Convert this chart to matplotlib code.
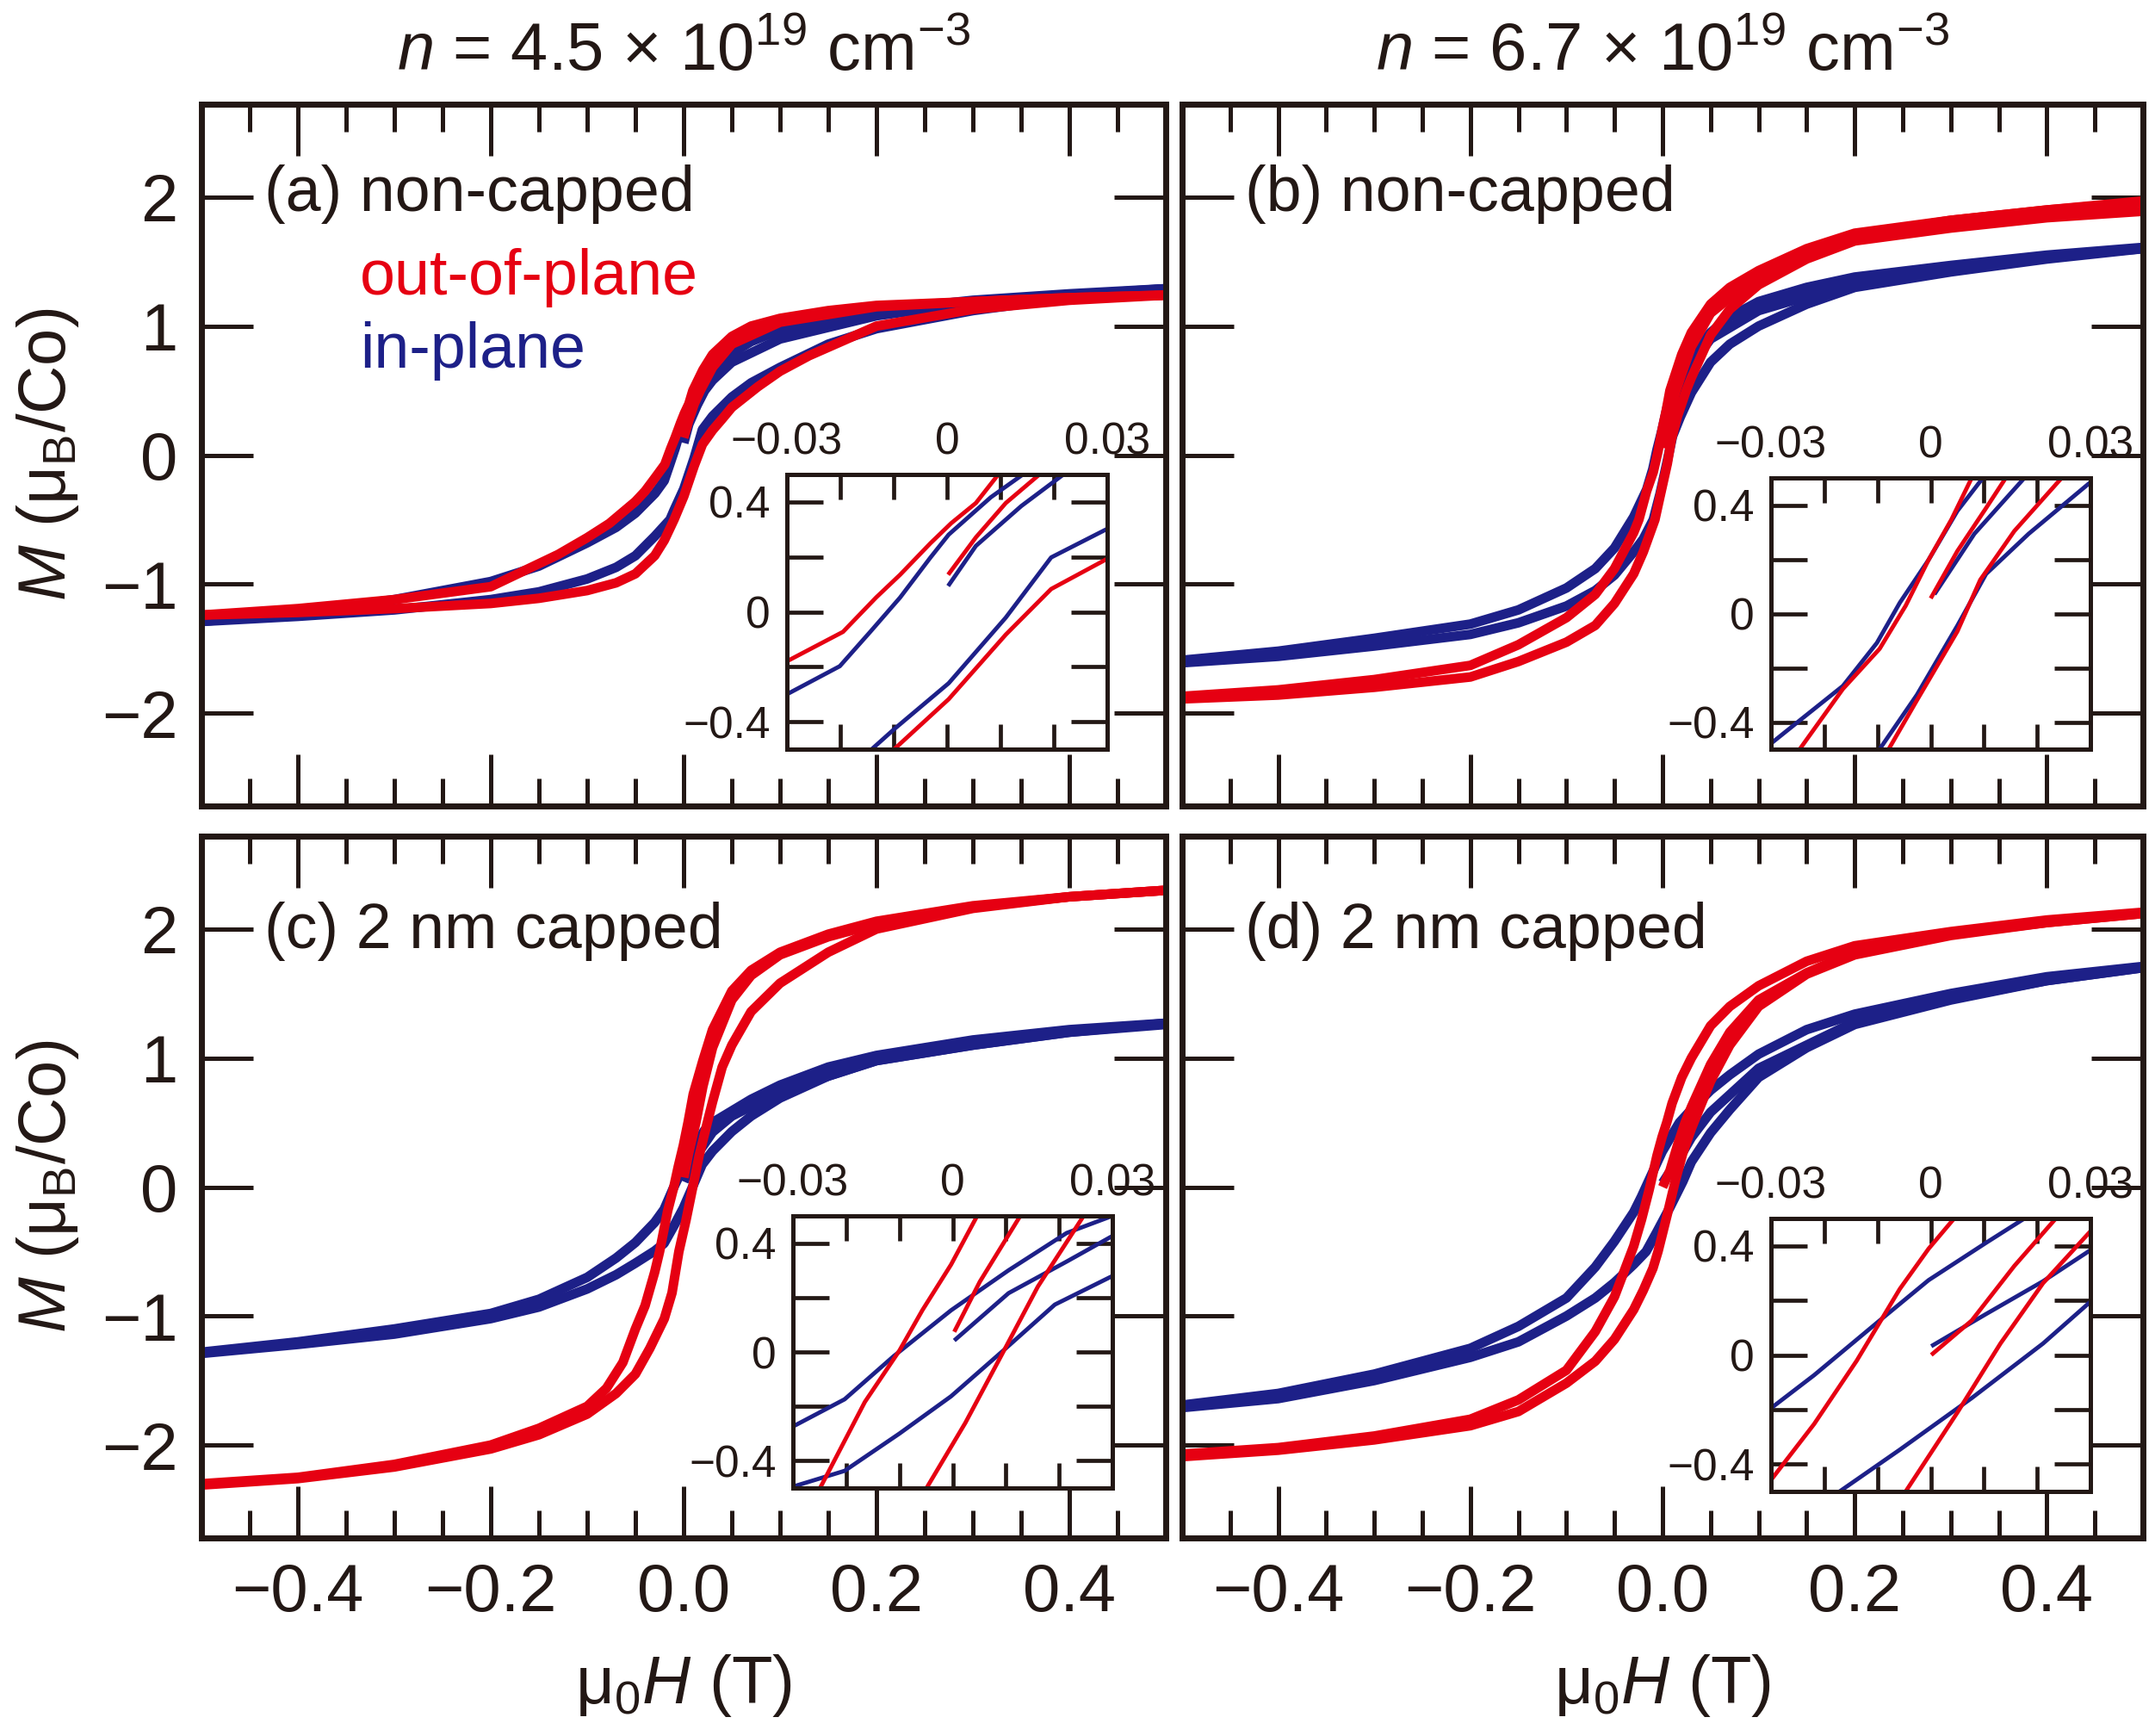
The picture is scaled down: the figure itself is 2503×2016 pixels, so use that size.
import numpy as np
import matplotlib
matplotlib.use('Agg')
import matplotlib.pyplot as plt
from matplotlib.ticker import FixedLocator, MultipleLocator, FixedFormatter

plt.rcParams['font.family'] = ['Liberation Sans', 'DejaVu Sans']
plt.rcParams['mathtext.fontset'] = 'custom'
plt.rcParams['mathtext.rm'] = 'Liberation Sans'
plt.rcParams['mathtext.it'] = 'Liberation Sans:italic'
plt.rcParams['mathtext.bf'] = 'Liberation Sans:bold'

# ---------------- data: (mu0H [T], M [muB/Co]) ----------------
# UP = descending-field branch, LOW = ascending-field branch, VIR = initial curve
A_RED_UP = [(0.5,1.24),(0.4,1.22),(0.3,1.19),(0.2,1.16),(0.15,1.12),(0.1,1.06),(0.07,1.0),(0.05,0.92),(0.03,0.78),(0.02,0.66),(0.0096,0.5),(0.0054,0.396),(0.0008,0.323),(-0.0031,0.25),(-0.0088,0.135),(-0.0133,0.052),(-0.0195,-0.073),(-0.0297,-0.177),(-0.04,-0.28),(-0.05,-0.36),(-0.077,-0.53),(-0.1,-0.64),(-0.13,-0.77),(-0.2,-1.02),(-0.3,-1.12),(-0.4,-1.19),(-0.5,-1.24)]
A_RED_LOW = [(-0.5,-1.24),(-0.4,-1.22),(-0.3,-1.19),(-0.2,-1.15),(-0.15,-1.11),(-0.1,-1.05),(-0.07,-0.99),(-0.05,-0.92),(-0.03,-0.78),(-0.02,-0.66),(-0.0099,-0.5),(0.0003,-0.318),(0.011,-0.083),(0.0195,0.083),(0.03,0.193),(0.04,0.28),(0.05,0.37),(0.077,0.53),(0.1,0.65),(0.13,0.77),(0.2,1.0),(0.3,1.13),(0.4,1.2),(0.5,1.24)]
A_RED_VIR = [(0.0002,0.135),(0.0054,0.271),(0.011,0.396),(0.0173,0.5),(0.03,0.68),(0.05,0.86),(0.1,1.03),(0.2,1.15),(0.3,1.19),(0.4,1.22),(0.5,1.24)]
A_BLUE_UP = [(0.5,1.29),(0.4,1.25),(0.3,1.2),(0.2,1.12),(0.15,1.06),(0.1,0.97),(0.07,0.88),(0.05,0.79),(0.03,0.64),(0.0142,0.5),(0.0082,0.417),(0.0003,0.281),(-0.0031,0.198),(-0.0088,0.052),(-0.0144,-0.073),(-0.0201,-0.198),(-0.0297,-0.297),(-0.05,-0.45),(-0.07,-0.56),(-0.1,-0.68),(-0.15,-0.86),(-0.2,-0.98),(-0.3,-1.12),(-0.4,-1.22),(-0.5,-1.29)]
A_BLUE_LOW = [(-0.5,-1.29),(-0.4,-1.25),(-0.3,-1.2),(-0.2,-1.12),(-0.15,-1.06),(-0.1,-0.96),(-0.07,-0.87),(-0.05,-0.78),(-0.03,-0.63),(-0.0141,-0.5),(-0.0099,-0.427),(0.0003,-0.26),(0.011,-0.021),(0.0195,0.198),(0.03,0.302),(0.05,0.45),(0.07,0.56),(0.1,0.68),(0.15,0.86),(0.2,0.98),(0.3,1.12),(0.4,1.22),(0.5,1.29)]
A_BLUE_VIR = [(0.0002,0.094),(0.0054,0.24),(0.0139,0.385),(0.0218,0.5),(0.03,0.58),(0.05,0.72),(0.1,0.9),(0.2,1.08),(0.3,1.18),(0.4,1.24),(0.5,1.29)]

B_RED_UP = [(0.5,1.97),(0.4,1.9),(0.3,1.82),(0.2,1.72),(0.15,1.6),(0.1,1.43),(0.07,1.3),(0.05,1.17),(0.03,0.95),(0.02,0.78),(0.0077,0.5),(0.0039,0.347),(-0.0004,0.198),(-0.0047,0.029),(-0.0096,-0.13),(-0.0165,-0.278),(-0.0246,-0.5),(-0.03,-0.6),(-0.05,-0.88),(-0.07,-1.08),(-0.1,-1.26),(-0.15,-1.47),(-0.2,-1.63),(-0.3,-1.74),(-0.4,-1.82),(-0.5,-1.87)]
B_RED_LOW = [(-0.5,-1.89),(-0.4,-1.86),(-0.3,-1.8),(-0.2,-1.72),(-0.15,-1.6),(-0.1,-1.45),(-0.07,-1.32),(-0.05,-1.15),(-0.03,-0.92),(-0.02,-0.75),(-0.0079,-0.5),(-0.0026,-0.32),(0.005,-0.066),(0.0093,0.124),(0.0157,0.304),(0.0246,0.5),(0.03,0.6),(0.05,0.93),(0.07,1.13),(0.1,1.32),(0.15,1.52),(0.2,1.66),(0.3,1.76),(0.4,1.84),(0.5,1.89)]
B_RED_VIR = [(0.0,0.056),(0.005,0.23),(0.0104,0.389),(0.0141,0.5),(0.02,0.63),(0.03,0.84),(0.05,1.1),(0.1,1.4),(0.2,1.7),(0.3,1.82),(0.4,1.9),(0.5,1.96)]
B_BLUE_UP = [(0.5,1.61),(0.4,1.55),(0.3,1.47),(0.2,1.38),(0.15,1.3),(0.1,1.19),(0.07,1.07),(0.05,0.95),(0.03,0.76),(0.02,0.65),(0.0098,0.5),(0.005,0.378),(-0.0004,0.198),(-0.0058,0.04),(-0.0101,-0.108),(-0.0165,-0.267),(-0.0246,-0.394),(-0.03,-0.479),(-0.05,-0.72),(-0.07,-0.88),(-0.1,-1.03),(-0.15,-1.2),(-0.2,-1.31),(-0.3,-1.42),(-0.4,-1.52),(-0.5,-1.59)]
B_BLUE_LOW = [(-0.5,-1.61),(-0.4,-1.56),(-0.3,-1.48),(-0.2,-1.39),(-0.15,-1.3),(-0.1,-1.17),(-0.07,-1.05),(-0.05,-0.93),(-0.03,-0.75),(-0.02,-0.65),(-0.0096,-0.5),(-0.0026,-0.3),(0.005,-0.045),(0.0104,0.146),(0.0184,0.294),(0.03,0.484),(0.05,0.72),(0.07,0.86),(0.1,1.0),(0.15,1.17),(0.2,1.3),(0.3,1.42),(0.4,1.52),(0.5,1.6)]
B_BLUE_VIR = [(0.0007,0.071),(0.0082,0.294),(0.0176,0.5),(0.03,0.7),(0.05,0.9),(0.1,1.12),(0.2,1.34),(0.3,1.45),(0.4,1.54),(0.5,1.6)]

C_RED_UP = [(0.5,2.3),(0.4,2.25),(0.3,2.18),(0.2,2.06),(0.15,1.96),(0.1,1.82),(0.07,1.68),(0.05,1.52),(0.03,1.22),(0.02,0.98),(0.01,0.72),(0.0046,0.5),(-0.0003,0.321),(-0.0057,0.153),(-0.01,0.005),(-0.0165,-0.184),(-0.0249,-0.5),(-0.03,-0.66),(-0.04,-0.92),(-0.05,-1.1),(-0.063,-1.36),(-0.08,-1.56),(-0.1,-1.7),(-0.15,-1.87),(-0.2,-2.0),(-0.3,-2.15),(-0.4,-2.25),(-0.5,-2.3)]
C_RED_LOW = [(-0.5,-2.31),(-0.4,-2.26),(-0.3,-2.17),(-0.2,-2.03),(-0.15,-1.92),(-0.1,-1.76),(-0.07,-1.6),(-0.05,-1.45),(-0.035,-1.25),(-0.02,-1.02),(-0.012,-0.82),(-0.0049,-0.5),(0.0024,-0.26),(0.0095,0.0),(0.016,0.24),(0.0246,0.5),(0.03,0.66),(0.04,0.93),(0.05,1.1),(0.07,1.36),(0.1,1.58),(0.15,1.82),(0.2,2.0),(0.3,2.16),(0.4,2.25),(0.5,2.3)]
C_RED_VIR = [(0.0003,0.074),(0.0051,0.258),(0.0127,0.5),(0.02,0.78),(0.03,1.08),(0.05,1.45),(0.07,1.64),(0.1,1.8),(0.15,1.94),(0.2,2.04),(0.3,2.17),(0.4,2.25),(0.5,2.3)]
C_BLUE_UP = [(0.5,1.27),(0.4,1.22),(0.3,1.14),(0.2,1.02),(0.15,0.93),(0.1,0.79),(0.07,0.68),(0.05,0.59),(0.03,0.5),(0.0214,0.437),(0.0105,0.3),(-0.0003,0.153),(-0.0111,-0.016),(-0.0203,-0.174),(-0.03,-0.274),(-0.05,-0.43),(-0.07,-0.55),(-0.1,-0.7),(-0.15,-0.87),(-0.2,-0.98),(-0.3,-1.1),(-0.4,-1.2),(-0.5,-1.28)]
C_BLUE_LOW = [(-0.5,-1.29),(-0.4,-1.22),(-0.3,-1.14),(-0.2,-1.02),(-0.15,-0.93),(-0.1,-0.79),(-0.07,-0.68),(-0.05,-0.59),(-0.03,-0.495),(-0.0203,-0.437),(-0.01,-0.3),(-0.0003,-0.163),(0.0095,0.005),(0.0192,0.174),(0.03,0.279),(0.05,0.43),(0.07,0.55),(0.1,0.69),(0.15,0.86),(0.2,0.98),(0.3,1.1),(0.4,1.2),(0.5,1.27)]
C_BLUE_VIR = [(0.0003,0.042),(0.0105,0.216),(0.0214,0.332),(0.03,0.426),(0.05,0.55),(0.1,0.74),(0.2,0.98),(0.3,1.1),(0.4,1.2),(0.5,1.26)]

D_RED_UP = [(0.5,2.13),(0.4,2.07),(0.3,1.98),(0.2,1.87),(0.15,1.75),(0.1,1.56),(0.07,1.4),(0.05,1.25),(0.03,1.0),(0.02,0.85),(0.01,0.65),(0.0044,0.5),(-0.0004,0.389),(-0.0058,0.242),(-0.0139,-0.021),(-0.0219,-0.253),(-0.03,-0.458),(-0.05,-0.85),(-0.07,-1.12),(-0.1,-1.42),(-0.15,-1.65),(-0.2,-1.8),(-0.3,-1.93),(-0.4,-2.02),(-0.5,-2.07)]
D_RED_LOW = [(-0.5,-2.09),(-0.4,-2.04),(-0.3,-1.96),(-0.2,-1.85),(-0.15,-1.74),(-0.1,-1.52),(-0.07,-1.35),(-0.05,-1.18),(-0.03,-0.95),(-0.02,-0.8),(-0.01,-0.63),(-0.0047,-0.5),(0.005,-0.211),(0.0131,0.042),(0.0211,0.263),(0.03,0.453),(0.05,0.82),(0.07,1.1),(0.1,1.4),(0.15,1.65),(0.2,1.8),(0.3,1.95),(0.4,2.05),(0.5,2.12)]
D_RED_VIR = [(0.0001,0.0),(0.0077,0.126),(0.0157,0.326),(0.0235,0.5),(0.03,0.62),(0.05,0.95),(0.07,1.2),(0.1,1.45),(0.15,1.66),(0.2,1.82),(0.3,1.96),(0.4,2.05),(0.5,2.12)]
D_BLUE_UP = [(0.5,1.71),(0.4,1.63),(0.3,1.5),(0.2,1.34),(0.15,1.22),(0.1,1.03),(0.07,0.87),(0.05,0.75),(0.03,0.6),(0.0176,0.5),(0.0104,0.411),(-0.0004,0.274),(-0.0096,0.126),(-0.0219,-0.074),(-0.03,-0.195),(-0.05,-0.42),(-0.07,-0.62),(-0.1,-0.86),(-0.15,-1.08),(-0.2,-1.25),(-0.3,-1.45),(-0.4,-1.6),(-0.5,-1.69)]
D_BLUE_LOW = [(-0.5,-1.71),(-0.4,-1.64),(-0.3,-1.5),(-0.2,-1.32),(-0.15,-1.2),(-0.1,-1.0),(-0.07,-0.86),(-0.05,-0.74),(-0.03,-0.6),(-0.0171,-0.5),(-0.0058,-0.347),(0.0077,-0.158),(0.0211,0.042),(0.03,0.195),(0.05,0.42),(0.07,0.6),(0.1,0.85),(0.15,1.08),(0.2,1.26),(0.3,1.45),(0.4,1.6),(0.5,1.7)]
D_BLUE_VIR = [(0.0001,0.032),(0.0104,0.15),(0.0211,0.27),(0.03,0.384),(0.05,0.58),(0.1,0.92),(0.2,1.28),(0.3,1.46),(0.4,1.6),(0.5,1.7)]

PANEL_LABELS = ['(a) non-capped', '(b) non-capped', '(c) 2 nm capped', '(d) 2 nm capped']
COLUMN_TITLES = [r'$\mathit{n}$ = 4.5 × 10$^{19}$ cm$^{-3}$', r'$\mathit{n}$ = 6.7 × 10$^{19}$ cm$^{-3}$']
LEGEND_TEXTS = ['out-of-plane', 'in-plane']
YLABEL = r'$\mathit{M}$ (μ$_{\mathrm{B}}$/Co)'
XLABEL = r'μ$_{0}$$\mathit{H}$ (T)'

X_TICKS = [-0.4, -0.2, 0.0, 0.2, 0.4]
Y_TICKS = [-2, -1, 0, 1, 2]
INSET_X_TICKS = [-0.03, -0.02, -0.01, 0.0, 0.01, 0.02, 0.03]
INSET_X_LABELS = ['\u22120.03', '', '', '0', '', '', '0.03']
INSET_Y_TICKS = [-0.4, -0.2, 0.0, 0.2, 0.4]
INSET_Y_LABELS = ['\u22120.4', '', '0', '', '0.4']

RED = '#e60012'
BLUE = '#1d2088'
INK = '#231815'

W, H = 2503, 2016
fig = plt.figure(figsize=(W / 100, H / 100), dpi=100)

def px_box(x0, y0, x1, y1):
    return [x0 / W, 1 - y1 / H, (x1 - x0) / W, (y1 - y0) / H]

MAIN_BOXES = [px_box(234, 121, 1354, 936), px_box(1373, 121, 2489, 936),
              px_box(234, 971, 1354, 1786), px_box(1373, 971, 2489, 1786)]
INSET_BOXES = [px_box(914, 551, 1286, 870), px_box(2057, 555, 2428, 870),
               px_box(921, 1412, 1292, 1728), px_box(2057, 1415, 2428, 1732)]

DATA = [
    (A_RED_UP, A_RED_LOW, A_RED_VIR, A_BLUE_UP, A_BLUE_LOW, A_BLUE_VIR),
    (B_RED_UP, B_RED_LOW, B_RED_VIR, B_BLUE_UP, B_BLUE_LOW, B_BLUE_VIR),
    (C_RED_UP, C_RED_LOW, C_RED_VIR, C_BLUE_UP, C_BLUE_LOW, C_BLUE_VIR),
    (D_RED_UP, D_RED_LOW, D_RED_VIR, D_BLUE_UP, D_BLUE_LOW, D_BLUE_VIR),
]

def draw_curves(ax, sets, lw):
    red_sets, blue_sets = sets[:3], sets[3:]
    for s in blue_sets:
        a = np.array(s)
        ax.plot(a[:, 0], a[:, 1], color=BLUE, lw=lw, solid_capstyle='butt', solid_joinstyle='round')
    for s in red_sets:
        a = np.array(s)
        ax.plot(a[:, 0], a[:, 1], color=RED, lw=lw, solid_capstyle='butt', solid_joinstyle='round')

for i in range(4):
    ax = fig.add_axes(MAIN_BOXES[i])
    draw_curves(ax, DATA[i], 8)
    ax.set_xlim(-0.5, 0.5)
    ax.set_ylim(-2.72, 2.72)
    ax.xaxis.set_major_locator(FixedLocator(X_TICKS))
    ax.xaxis.set_minor_locator(MultipleLocator(0.05))
    ax.yaxis.set_major_locator(FixedLocator(Y_TICKS))
    ax.tick_params(which='both', direction='in', top=True, right=True, bottom=True, left=True,
                   color=INK, width=3.6, labelcolor=INK)
    ax.tick_params(which='major', length=43, labelsize=56, pad=20)
    ax.tick_params(which='minor', length=23)
    ax.tick_params(labelbottom=(i >= 2), labelleft=(i % 2 == 0))
    for sp in ax.spines.values():
        sp.set_linewidth(5)
        sp.set_color(INK)
    yb = 0.848 if i < 2 else 0.840
    ax.text(0.065, yb, PANEL_LABELS[i], transform=ax.transAxes, fontsize=53,
            color=INK, va='baseline', ha='left')
    if i == 0:
        ax.text(0.164, 0.729, LEGEND_TEXTS[0], transform=ax.transAxes, fontsize=53,
                color=RED, va='baseline', ha='left')
        ax.text(0.164, 0.6245, LEGEND_TEXTS[1], transform=ax.transAxes, fontsize=53,
                color=BLUE, va='baseline', ha='left')

    ins = fig.add_axes(INSET_BOXES[i])
    draw_curves(ins, DATA[i], 3.5)
    ins.set_xlim(-0.03, 0.03)
    ins.set_ylim(-0.5, 0.5)
    ins.xaxis.set_major_locator(FixedLocator(INSET_X_TICKS))
    ins.xaxis.set_major_formatter(FixedFormatter(INSET_X_LABELS))
    ins.yaxis.set_major_locator(FixedLocator(INSET_Y_TICKS))
    ins.yaxis.set_major_formatter(FixedFormatter(INSET_Y_LABELS))
    ins.tick_params(axis='x', direction='in', top=True, bottom=True, labeltop=True,
                    labelbottom=False, length=21, width=3.4, color=INK, labelsize=37,
                    pad=9, labelcolor=INK)
    ins.tick_params(axis='y', direction='in', left=True, right=True, length=30, width=3.4,
                    color=INK, labelsize=37, pad=14, labelcolor=INK)
    for sp in ins.spines.values():
        sp.set_linewidth(3.6)
        sp.set_color(INK)

for cx, title in zip([794 / W, 1931 / W], COLUMN_TITLES):
    fig.text(cx, 1 - 82 / H, title, fontsize=56, ha='center', va='baseline', color=INK)
    fig.text(cx, 1 - 1978 / H, XLABEL, fontsize=56, ha='center', va='baseline', color=INK)

for cy in [1 - 528 / H, 1 - 1378 / H]:
    fig.text(56 / W, cy, YLABEL, fontsize=56, ha='center', va='center', rotation=90, color=INK)

fig.savefig('out.png', dpi=100)
